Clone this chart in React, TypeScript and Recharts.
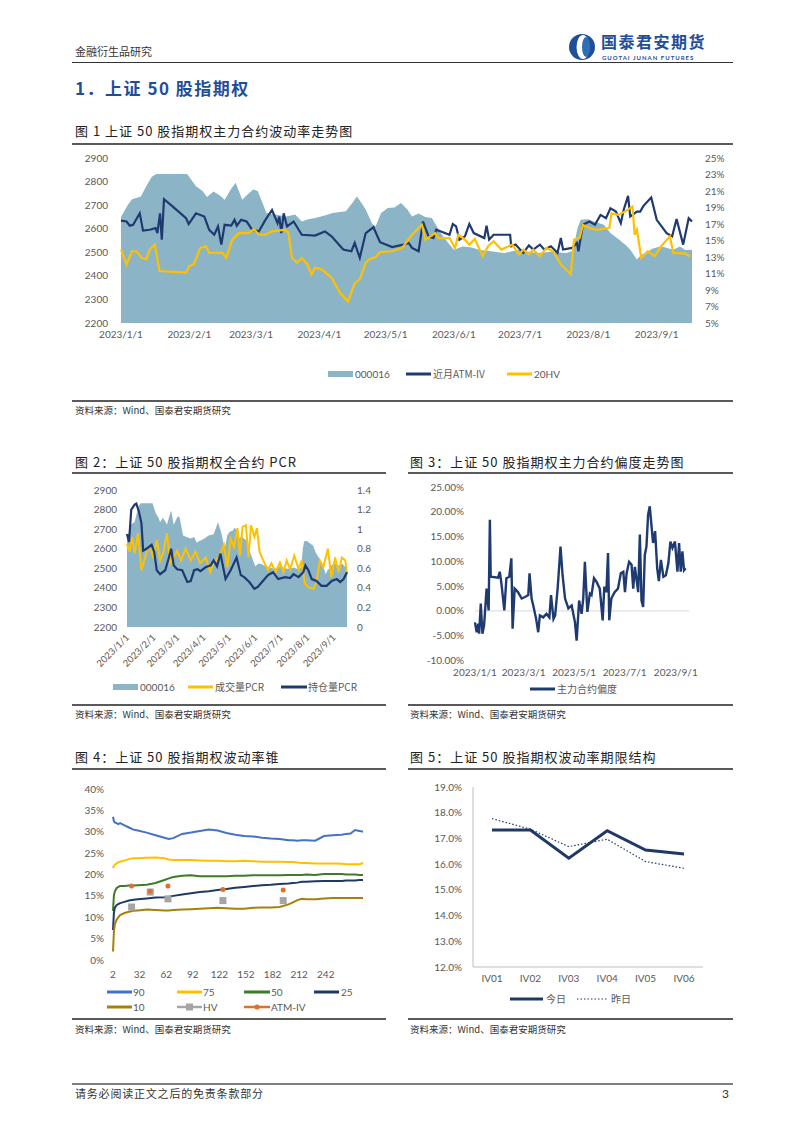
import React from 'react';
import { ComposedChart, LineChart, Area, Line, XAxis, YAxis, ReferenceLine } from 'recharts';

// 横轴统一用 2023/1/1 起的天数
const monthTicks = [0, 31, 59, 90, 120, 151, 181, 212, 243];
const monthLabels = ['2023/1/1', '2023/2/1', '2023/3/1', '2023/4/1', '2023/5/1', '2023/6/1', '2023/7/1', '2023/8/1', '2023/9/1'];

// 000016 (图1、图2 共用)
const idxDays = [0, 3, 5, 9, 12, 14, 16, 19, 30, 34, 37, 39, 42, 45, 47, 50, 52, 55, 58, 60, 62, 66, 70, 75, 79, 82, 85, 88, 92, 96, 102, 105, 107, 109, 111, 114, 115.5, 118, 121, 124, 127, 130, 132, 135, 138, 141, 145, 148, 151, 155, 159, 163, 167, 171, 174, 178, 181, 185, 189, 193, 196, 200, 202, 205, 207, 208.5, 212, 214.5, 219, 222, 226, 229, 231, 234, 236, 238.5, 241, 244.5, 247, 250.5, 253.5, 256, 259];
const idxValues = [2650, 2700, 2725, 2737, 2790, 2820, 2832, 2832, 2832, 2780, 2760, 2735, 2758, 2740, 2723, 2770, 2795, 2723, 2750, 2766, 2760, 2667, 2660, 2652, 2660, 2631, 2640, 2645, 2655, 2667, 2674, 2710, 2737, 2710, 2681, 2620, 2610, 2667, 2688, 2690, 2709, 2680, 2652, 2665, 2650, 2645, 2582, 2545, 2511, 2525, 2520, 2510, 2505, 2500, 2497, 2505, 2511, 2502, 2497, 2500, 2504, 2498, 2497, 2505, 2600, 2638, 2640, 2631, 2617, 2582, 2553, 2530, 2511, 2469, 2490, 2500, 2515, 2525, 2520, 2511, 2525, 2510, 2511];

// 图1 近月ATM-IV (%)
const ivDays = [0, 2.5, 4, 5.5, 8.5, 10, 13, 15.7, 16.5, 17.7, 18.5, 19.5, 23.5, 29.5, 30.7, 34, 37.8, 40, 42.3, 44, 45.5, 47, 50, 51.5, 52.5, 54.5, 57, 59.5, 62.5, 65.5, 68.5, 71, 71.8, 72.7, 73.8, 75.3, 78.3, 82, 88, 92.5, 95.5, 100.8, 104.5, 106, 108.3, 111, 114.5, 117.5, 123, 128, 130.5, 132, 135, 137, 139.5, 141.7, 143, 146, 149, 150.5, 152, 153.5, 156, 158, 160, 164.8, 165.8, 167, 169, 176.5, 177, 179, 181, 182.5, 185, 187, 190, 192, 195, 198, 199.5, 200.5, 204.5, 206.8, 207.5, 209.5, 212.5, 215, 217.5, 220, 222, 224.5, 226.7, 228, 230, 231, 234, 235.5, 237, 240.5, 243, 247.5, 250, 252, 255, 257.5, 259];
const ivValues = [17.4, 17.3, 16.8, 16.9, 18.3, 16.2, 16.3, 16.5, 15.9, 18.3, 15.1, 20.0, 19.1, 17.7, 17.0, 18.3, 17.9, 16.3, 15.7, 16.7, 14.5, 16.9, 16.8, 17.5, 16.8, 17.5, 17.3, 16.3, 16.1, 17.5, 18.7, 17.1, 17.9, 15.9, 18.3, 16.7, 17.3, 15.7, 15.6, 16.1, 15.5, 13.9, 13.7, 14.7, 12.9, 15.9, 16.6, 14.8, 14.2, 14.5, 14.7, 14.1, 13.7, 17.3, 15.5, 15.3, 16.3, 16.0, 15.7, 17.0, 16.7, 15.1, 15.5, 17.0, 15.9, 15.3, 16.8, 15.1, 15.7, 15.7, 14.3, 14.5, 13.9, 13.5, 14.4, 13.9, 14.5, 13.9, 14.3, 13.5, 15.3, 13.9, 14.1, 14.7, 13.7, 16.9, 17.3, 16.9, 18.1, 17.7, 18.9, 18.5, 17.1, 18.7, 20.4, 17.9, 18.5, 18.5, 19.2, 20.2, 17.5, 15.9, 15.5, 17.6, 14.5, 17.7, 17.3];

// 图1 20HV (%)
const hvDays = [0, 2.5, 5, 7, 9.3, 11.5, 13, 15.3, 17.5, 29.5, 31, 33, 36, 38.5, 40, 46, 47.7, 50.5, 53.5, 58, 60.3, 62.5, 65.5, 68.5, 74.5, 76, 77.5, 79.8, 82, 84.5, 86.5, 88, 91, 95.5, 99.5, 103, 106, 108.3, 111, 112.5, 115.5, 117.5, 123, 127.5, 132, 135, 136.5, 138, 142.5, 144, 149, 151.5, 153, 156, 158, 160.5, 164, 166.5, 169, 172.5, 177.5, 180.5, 182.5, 185, 187, 190, 193, 196, 199.5, 204, 205.5, 208, 209.5, 212.5, 215.5, 221.5, 222.5, 225.5, 228.5, 232, 233, 234, 236, 239, 242, 245, 249, 250.5, 256, 258];
const hvValues = [13.9, 12.1, 13.7, 13.7, 12.9, 12.7, 13.9, 14.5, 11.3, 11.1, 11.9, 12.1, 14.1, 14.3, 13.5, 13.5, 12.9, 15.1, 15.9, 15.9, 16.4, 15.7, 15.7, 16.1, 16.3, 15.9, 12.9, 12.3, 12.9, 12.1, 10.9, 11.7, 11.5, 10.5, 8.6, 7.6, 9.8, 10.3, 12.3, 12.7, 13.0, 13.6, 13.7, 14.1, 15.7, 16.5, 16.9, 15.1, 15.9, 15.3, 15.3, 14.1, 15.7, 15.1, 14.5, 15.2, 13.1, 14.3, 14.9, 13.9, 14.5, 13.3, 13.9, 13.3, 13.9, 13.1, 14.1, 13.7, 12.1, 10.9, 15.1, 15.3, 16.9, 16.5, 16.3, 16.5, 18.3, 18.1, 18.5, 19.1, 15.7, 16.3, 12.9, 13.7, 13.1, 14.3, 15.5, 13.5, 13.4, 13.1];

// 图2 成交量PCR / 持仓量PCR
const volDays = [0, 3, 6, 9, 13, 17, 21, 25, 29, 31, 35, 39, 43, 47, 51, 55, 59, 63.5, 69, 75, 80.5, 86, 92.5, 98, 102, 108, 114, 118, 122, 126, 130, 133, 136, 140, 143, 146, 150, 153, 156, 162, 166, 170, 175, 180, 184, 188, 192, 197, 202, 205.5, 209.5, 213.5, 219.5, 223, 227, 231, 236.5, 240.5, 245, 249, 253, 257, 259];
const volValues = [0.85, 0.77, 0.92, 0.75, 0.96, 0.58, 0.70, 0.82, 0.77, 0.70, 0.89, 0.68, 0.77, 0.96, 0.65, 0.71, 0.78, 0.68, 0.80, 0.68, 0.77, 0.65, 0.71, 0.56, 0.66, 0.71, 0.84, 0.61, 0.90, 0.82, 1.01, 0.73, 1.02, 1.04, 0.71, 1.04, 0.92, 1.01, 0.77, 0.65, 0.58, 0.65, 0.56, 0.66, 0.56, 0.68, 0.59, 0.73, 0.59, 0.68, 0.44, 0.41, 0.39, 0.46, 0.68, 0.61, 0.80, 0.51, 0.71, 0.56, 0.71, 0.68, 0.54];
const oiDays = [0, 2.4, 5, 9, 11, 14, 17, 19, 23, 29, 32, 35, 39, 45, 49, 52, 55, 59, 65, 71, 75, 79, 83, 86.5, 92.5, 98.4, 102, 106, 110, 116, 122, 129, 134, 138, 144, 150, 154, 160, 166, 172, 178, 186, 192, 196, 202, 207.5, 210, 213.5, 217.5, 223, 229, 235, 241, 247, 251, 255, 259];
const oiValues = [0.95, 0.87, 1.20, 1.25, 1.26, 1.18, 1.06, 0.78, 0.80, 0.84, 0.77, 0.58, 0.54, 0.58, 0.70, 0.80, 0.63, 0.59, 0.58, 0.46, 0.47, 0.58, 0.59, 0.57, 0.61, 0.63, 0.68, 0.62, 0.75, 0.49, 0.58, 0.71, 0.53, 0.51, 0.46, 0.39, 0.41, 0.47, 0.53, 0.56, 0.49, 0.51, 0.50, 0.54, 0.51, 0.56, 0.63, 0.58, 0.49, 0.47, 0.42, 0.42, 0.47, 0.49, 0.46, 0.49, 0.56];

// 图3 主力合约偏度 (%)
const skewTicks = [0, 59, 120, 181, 243];
const skewTickLabels = ['2023/1/1', '2023/3/1', '2023/5/1', '2023/7/1', '2023/9/1'];
const skewDays = [0, 2, 4, 5, 7, 9, 11, 14, 16.5, 18, 19, 28, 30, 32, 35.5, 38, 41.5, 44, 45.5, 48, 52, 56.5, 60.5, 64.5, 66, 68.5, 70.5, 74, 76.5, 78.5, 82.5, 86.5, 90, 92, 95, 97, 100, 102, 103.5, 106, 109, 113, 117, 121, 123, 126, 129, 131, 133, 136, 139, 141, 144, 147, 151, 154.5, 156.5, 159, 161, 162.5, 165, 169, 173, 176.5, 179.5, 181.5, 183.5, 186.5, 189.5, 191.5, 193.5, 197.5, 199.5, 201.5, 203.5, 205.5, 207.5, 209.5, 211.5, 213.5, 215.5, 218, 220.5, 222.5, 225, 228, 231, 234, 236.5, 239, 242, 245, 247, 249, 251, 253, 255];
const skewValues = [-2.3, -4.3, -2.6, -4.6, 1.5, -4.6, -2.9, 4.5, 0.1, 18.4, 6.9, 6.7, 7.9, 5.5, 0.1, 6.6, 6.9, 10.6, -3.6, 4.5, 3.8, 2.5, 2.8, 3.2, 7.6, 2.5, 1.1, -1.6, -4.3, -0.9, -1.3, -0.6, -1.3, 3.2, -1.6, -0.9, 4.5, 9.3, 13.0, 7.2, 2.5, 0.5, 1.1, -2.3, -6.0, 2.1, -0.6, 2.5, 9.9, -0.2, 3.5, 3.2, 6.6, 5.9, 4.5, -1.9, 4.9, 3.8, 11.7, -1.9, 2.5, 3.8, 4.5, 7.6, 7.9, 3.8, 7.6, 9.9, 9.3, 4.5, 8.9, 3.8, 15.4, 2.1, 0.8, 11.3, 13.0, 19.4, 21.1, 17.4, 13.7, 16.1, 8.6, 6.0, 10.3, 6.9, 7.2, 9.6, 14.0, 12.7, 14.0, 7.9, 13.7, 7.9, 12.0, 8.2, 8.6];

// 图4 波动率锥 (%)
const coneDays = [2, 3, 4, 6, 8, 10, 15, 20, 25, 30, 40, 50, 60, 65, 70, 80, 90, 100, 110, 120, 130, 140, 150, 160, 170, 180, 190, 200, 205, 210, 215, 220, 230, 240, 250, 260, 265, 270, 275, 280, 284];
const cone90 = [33.5, 32.5, 32.2, 32.0, 31.8, 32.0, 31.5, 31.0, 30.5, 30.3, 29.8, 29.2, 28.6, 28.3, 28.5, 29.5, 29.8, 30.2, 30.5, 30.3, 29.7, 29.3, 29.0, 28.9, 28.6, 28.4, 28.3, 28.0, 28.0, 27.9, 28.0, 28.0, 27.9, 29.0, 29.2, 29.3, 29.5, 29.6, 30.4, 30.2, 30.0];
const cone75 = [21.5, 22.0, 22.3, 22.6, 22.9, 23.0, 23.3, 23.6, 23.8, 23.8, 23.9, 24.0, 23.8, 23.5, 23.4, 23.4, 23.4, 23.3, 23.2, 23.2, 23.1, 23.1, 23.2, 23.1, 23.0, 23.0, 23.0, 22.9, 22.9, 22.8, 22.7, 22.7, 22.6, 22.6, 22.6, 22.5, 22.4, 22.4, 22.4, 22.4, 22.7];
const cone50 = [11.5, 15.0, 16.0, 16.8, 17.1, 17.3, 17.3, 17.4, 17.4, 17.5, 17.6, 18.0, 18.7, 19.1, 19.4, 19.7, 19.8, 19.6, 19.6, 19.6, 19.6, 19.7, 19.7, 19.8, 19.8, 19.8, 19.8, 19.9, 19.9, 19.9, 19.9, 20.0, 19.9, 20.1, 20.1, 20.1, 20.0, 20.0, 20.0, 19.9, 19.9];
const cone25 = [7.0, 11.0, 12.2, 12.8, 13.1, 13.3, 13.6, 13.9, 14.1, 14.2, 14.4, 14.6, 14.7, 14.8, 15.0, 15.3, 15.6, 15.9, 16.1, 16.4, 16.6, 16.9, 17.1, 17.3, 17.5, 17.6, 17.8, 17.9, 18.0, 18.1, 18.3, 18.3, 18.4, 18.5, 18.5, 18.5, 18.6, 18.6, 18.6, 18.7, 18.7];
const cone10 = [2.0, 6.5, 8.3, 9.4, 10.0, 10.5, 11.0, 11.3, 11.5, 11.6, 11.8, 11.7, 11.6, 11.6, 11.7, 11.8, 11.9, 12.0, 12.1, 12.2, 12.1, 12.0, 12.0, 12.2, 12.3, 12.3, 12.4, 13.0, 13.5, 14.0, 14.3, 14.2, 14.2, 14.4, 14.5, 14.5, 14.5, 14.5, 14.5, 14.5, 14.5];
const markDays = [23, 44, 64, 126, 194];
const markHV = [12.4, 15.9, 14.3, 13.9, 13.9];
const markATM = [17.3, 16.1, 17.3, 16.5, 16.4];
const coneXTicks = [2, 32, 62, 92, 122, 152, 182, 212, 242];
const coneYTicks = [0, 5, 10, 15, 20, 25, 30, 35, 40];

// 图5 期限结构 (%)
const termLabels = ['IV01', 'IV02', 'IV03', 'IV04', 'IV05', 'IV06'];
const termToday = [17.33, 17.33, 16.23, 17.3, 16.55, 16.39];
const termYesterday = [17.77, 17.36, 16.68, 16.97, 16.1, 15.84];

const fig1LeftTicks = [2200, 2300, 2400, 2500, 2600, 2700, 2800, 2900];
const fig1RightTicks = [5, 7, 9, 11, 13, 15, 17, 19, 21, 23, 25];
const pcrTicks = [0, 0.2, 0.4, 0.6, 0.8, 1, 1.2, 1.4];
const skewYTicks = [-10, -5, 0, 5, 10, 15, 20, 25];
const termYTicks = [12, 13, 14, 15, 16, 17, 18, 19];

const NUM_FONT = 'Lato, "Noto Sans", sans-serif';
const CJK_FONT = '"Noto Sans CJK SC", "Noto Sans", sans-serif';
const AXIS_GREY = '#595959';
const AREA = '#8BB5C6';
const NAVY = '#1F3A70';
const GOLD = '#FFC000';

const tickStyle = { fill: AXIS_GREY, fontSize: 10, fontFamily: NUM_FONT };

type Series = { key: string; days: number[]; values: number[] };
function mergeByDay(series: Series[]) {
    const map = new Map<number, Record<string, number>>();
    series.forEach(s => s.days.forEach((d, i) => {
        const row = map.get(d) ?? { day: d };
        row[s.key] = s.values[i];
        map.set(d, row);
    }));
    return [...map.values()].sort((a, b) => a.day - b.day);
}

const fig1Data = mergeByDay([
    { key: 'idx', days: idxDays, values: idxValues },
    { key: 'iv', days: ivDays, values: ivValues },
    { key: 'hv', days: hvDays, values: hvValues },
]);
const fig2Data = mergeByDay([
    { key: 'idx', days: idxDays, values: idxValues },
    { key: 'vol', days: volDays, values: volValues },
    { key: 'oi', days: oiDays, values: oiValues },
]);
const fig3Data = skewDays.map((d, i) => ({ day: d, skew: skewValues[i] }));
const fig4Data = mergeByDay([
    { key: 'p90', days: coneDays, values: cone90 },
    { key: 'p75', days: coneDays, values: cone75 },
    { key: 'p50', days: coneDays, values: cone50 },
    { key: 'p25', days: coneDays, values: cone25 },
    { key: 'p10', days: coneDays, values: cone10 },
    { key: 'hv', days: markDays, values: markHV },
    { key: 'atm', days: markDays, values: markATM },
]);
const fig5Data = termLabels.map((t, i) => ({ name: t, today: termToday[i], yesterday: termYesterday[i] }));

const monthLabel = (v: number) => monthLabels[monthTicks.indexOf(v)] ?? '';

// 页面上的文字：y 为文字中线
function T({ x, y, size = 10, color = '#222', font = CJK_FONT, weight = 400, spacing = 0, children }: any) {
    return (
        <div style={{
            position: 'absolute', left: x, top: y - size * 0.6, fontSize: size, lineHeight: `${size * 1.2}px`,
            color, fontFamily: font, fontWeight: weight, letterSpacing: spacing, whiteSpace: 'nowrap',
        }}>{children}</div>
    );
}

function Rule({ x, y, w, h = 1, color = '#595959' }: any) {
    return <div style={{ position: 'absolute', left: x, top: y, width: w, height: h, background: color }} />;
}

function Swatch({ x, y, w = 26, kind, color, dash }: any) {
    return (
        <svg style={{ position: 'absolute', left: x, top: y - 5 }} width={w} height={10}>
            {kind === 'box' && <rect x={0} y={2} width={w} height={6} fill={color} />}
            {kind === 'line' && <line x1={0} x2={w} y1={5} y2={5} stroke={color} strokeWidth={3} strokeDasharray={dash} />}
            {kind === 'sq' && <>
                <line x1={0} x2={w} y1={5} y2={5} stroke={color} strokeWidth={2.5} />
                <rect x={w / 2 - 3.5} y={1.5} width={7} height={7} fill={color} />
            </>}
            {kind === 'dot' && <>
                <line x1={0} x2={w} y1={5} y2={5} stroke={color} strokeWidth={2.5} />
                <circle cx={w / 2} cy={5} r={2.6} fill={color} />
            </>}
        </svg>
    );
}

const RotTick = ({ x, y, payload }: any) => (
    <text x={x + 3} y={y + 3} transform={`rotate(-45 ${x + 3} ${y + 3})`} textAnchor="end"
        fill={AXIS_GREY} fontSize={9.5} fontFamily={NUM_FONT}>{monthLabel(payload.value)}</text>
);

const Square = ({ cx, cy }: any) => (cx == null || cy == null ? null :
    <rect x={cx - 3.5} y={cy - 3.5} width={7} height={7} fill="#A5A5A5" />);
const Dot = ({ cx, cy }: any) => (cx == null || cy == null ? null :
    <circle cx={cx} cy={cy} r={2.5} fill="#E2702C" />);

function Logo() {
    return (
        <>
            <svg style={{ position: 'absolute', left: 568, top: 33 }} width={28} height={28}>
                <circle cx={14} cy={14} r={13} fill="#1F4E9A" />
                <ellipse cx={15} cy={14} rx={6.5} ry={12} fill="#fff" />
                <ellipse cx={18} cy={14} rx={4} ry={10} fill="#2F6DB5" />
            </svg>
            <T x={601} y={42} size={16} color="#1F4E9A" weight={700} spacing={1.5}>国泰君安期货</T>
            <T x={602} y={57.5} size={6} color="#1F4E9A" font={NUM_FONT} weight={700} spacing={1}>GUOTAI JUNAN FUTURES</T>
        </>
    );
}

export default function App() {
    return (
        <div style={{ position: 'absolute', left: 0, top: 0, width: 802, height: 1134, background: '#fff', overflow: 'hidden' }}>
            {/* 页眉 */}
            <T x={75} y={52} size={11} color="#333">金融衍生品研究</T>
            <Logo />
            <Rule x={72} y={62} w={661} color="#333" />
            <T x={75} y={88} size={17} color="#1F4E99" weight={700} spacing={1.5}>1．上证 50 股指期权</T>

            {/* 图1 */}
            <T x={75} y={131} size={13} spacing={1}>图 1 上证 50 股指期权主力合约波动率走势图</T>
            <Rule x={72} y={143} w={661} h={1.5} />
            <div style={{ position: 'absolute', left: 60, top: 150 }}>
                <ComposedChart width={680} height={200} data={fig1Data} margin={{ top: 8, right: 0, bottom: 0, left: 0 }}>
                    <XAxis dataKey="day" type="number" domain={[0, 259]} ticks={monthTicks} tickFormatter={monthLabel}
                        axisLine={false} tickLine={false} height={27} tick={tickStyle} interval={0} />
                    <YAxis yAxisId="l" domain={[2200, 2900]} ticks={fig1LeftTicks} width={61} axisLine={false} tickLine={false}
                        tickMargin={7} tick={tickStyle} />
                    <YAxis yAxisId="r" orientation="right" domain={[5, 25]} ticks={fig1RightTicks} width={48} axisLine={false}
                        tickLine={false} tickMargin={7} tick={{ ...tickStyle, textAnchor: 'start' }} tickFormatter={(v: number) => `${v}%`} />
                    <Area yAxisId="l" dataKey="idx" type="linear" fill={AREA} fillOpacity={1} stroke="none" connectNulls isAnimationActive={false} />
                    <Line yAxisId="r" dataKey="iv" type="linear" stroke={NAVY} strokeWidth={2.2} dot={false} connectNulls isAnimationActive={false} />
                    <Line yAxisId="r" dataKey="hv" type="linear" stroke={GOLD} strokeWidth={2.2} dot={false} connectNulls isAnimationActive={false} />
                </ComposedChart>
            </div>
            <Swatch x={328} y={374} w={25} kind="box" color={AREA} />
            <T x={355} y={374} size={10} color={AXIS_GREY} font={NUM_FONT}>000016</T>
            <Swatch x={406} y={374} w={25} kind="line" color={NAVY} />
            <T x={433} y={374} size={10} color={AXIS_GREY}>近月ATM-IV</T>
            <Swatch x={507} y={374} w={25} kind="line" color={GOLD} />
            <T x={534} y={374} size={10} color={AXIS_GREY} font={NUM_FONT}>20HV</T>
            <Rule x={72} y={400} w={661} h={1.5} />
            <T x={75} y={411} size={9.5} color="#333">资料来源：Wind、国泰君安期货研究</T>

            {/* 图2 */}
            <T x={75} y={462} size={13} spacing={1}>图 2：上证 50 股指期权全合约 PCR</T>
            <Rule x={72} y={472} w={314} h={1.5} />
            <div style={{ position: 'absolute', left: 60, top: 480 }}>
                <ComposedChart width={320} height={200} data={fig2Data} margin={{ top: 10, right: 0, bottom: 0, left: 0 }}>
                    <XAxis dataKey="day" type="number" domain={[0, 259]} ticks={monthTicks} axisLine={false} tickLine={false}
                        height={53} tick={<RotTick />} interval={0} />
                    <YAxis yAxisId="l" domain={[2200, 2900]} ticks={fig1LeftTicks} width={67} axisLine={false} tickLine={false}
                        tickMargin={4} tick={tickStyle} />
                    <YAxis yAxisId="r" orientation="right" domain={[0, 1.4]} ticks={pcrTicks} width={33} axisLine={false}
                        tickLine={false} tickMargin={4} tick={{ ...tickStyle, textAnchor: 'start' }} />
                    <Area yAxisId="l" dataKey="idx" type="linear" fill={AREA} fillOpacity={1} stroke="none" connectNulls isAnimationActive={false} />
                    <Line yAxisId="r" dataKey="vol" type="linear" stroke={GOLD} strokeWidth={2} dot={false} connectNulls isAnimationActive={false} />
                    <Line yAxisId="r" dataKey="oi" type="linear" stroke={NAVY} strokeWidth={2.2} dot={false} connectNulls isAnimationActive={false} />
                </ComposedChart>
            </div>
            <Swatch x={113} y={687} w={25} kind="box" color={AREA} />
            <T x={140} y={687} size={10} color={AXIS_GREY} font={NUM_FONT}>000016</T>
            <Swatch x={188} y={687} w={25} kind="line" color={GOLD} />
            <T x={215} y={687} size={10} color={AXIS_GREY}>成交量PCR</T>
            <Swatch x={281} y={687} w={26} kind="line" color={NAVY} />
            <T x={308} y={687} size={10} color={AXIS_GREY}>持仓量PCR</T>
            <Rule x={72} y={704} w={314} h={1.5} />
            <T x={75} y={715} size={9.5} color="#333">资料来源：Wind、国泰君安期货研究</T>

            {/* 图3 */}
            <T x={410} y={462} size={13} spacing={1}>图 3：上证 50 股指期权主力合约偏度走势图</T>
            <Rule x={408} y={472} w={325} h={1.5} />
            <div style={{ position: 'absolute', left: 400, top: 476 }}>
                <ComposedChart width={340} height={205} data={fig3Data} margin={{ top: 11, right: 51, bottom: 0, left: 0 }}>
                    <XAxis dataKey="day" type="number" domain={[0, 259]} ticks={skewTicks}
                        tickFormatter={(v: number) => skewTickLabels[skewTicks.indexOf(v)] ?? ''}
                        axisLine={false} tickLine={false} height={20.5} tick={tickStyle} interval={0} />
                    <YAxis domain={[-10, 25]} ticks={skewYTicks} width={75} axisLine={false} tickLine={false} tickMargin={5}
                        tick={tickStyle} tickFormatter={(v: number) => `${v.toFixed(2)}%`} />
                    <ReferenceLine y={0} stroke="#D9D9D9" strokeWidth={1} />
                    <Line dataKey="skew" type="linear" stroke={NAVY} strokeWidth={2.4} dot={false} isAnimationActive={false} />
                </ComposedChart>
            </div>
            <Swatch x={530} y={689} w={25} kind="line" color={NAVY} />
            <T x={557} y={689} size={10} color={AXIS_GREY}>主力合约偏度</T>
            <Rule x={408} y={704} w={325} h={1.5} />
            <T x={410} y={715} size={9.5} color="#333">资料来源：Wind、国泰君安期货研究</T>

            {/* 图4 */}
            <T x={75} y={757} size={13} spacing={1}>图 4：上证 50 股指期权波动率锥</T>
            <Rule x={72} y={768} w={314} h={1.5} />
            <div style={{ position: 'absolute', left: 60, top: 780 }}>
                <ComposedChart width={320} height={200} data={fig4Data} margin={{ top: 9, right: 17, bottom: 0, left: 0 }}>
                    <XAxis dataKey="day" type="number" domain={[2, 284]} ticks={coneXTicks} axisLine={false} tickLine={false}
                        height={20} tickMargin={5} tick={tickStyle} interval={0} />
                    <YAxis domain={[0, 40]} ticks={coneYTicks} width={53} axisLine={false} tickLine={false} tickMargin={3}
                        tick={tickStyle} tickFormatter={(v: number) => `${v}%`} />
                    <Line dataKey="p90" type="linear" stroke="#4472C4" strokeWidth={2} dot={false} connectNulls isAnimationActive={false} />
                    <Line dataKey="p75" type="linear" stroke={GOLD} strokeWidth={2} dot={false} connectNulls isAnimationActive={false} />
                    <Line dataKey="p50" type="linear" stroke="#3F7A2A" strokeWidth={2} dot={false} connectNulls isAnimationActive={false} />
                    <Line dataKey="p25" type="linear" stroke="#1F3864" strokeWidth={2} dot={false} connectNulls isAnimationActive={false} />
                    <Line dataKey="p10" type="linear" stroke="#A5810C" strokeWidth={2} dot={false} connectNulls isAnimationActive={false} />
                    <Line dataKey="hv" stroke="none" dot={<Square />} isAnimationActive={false} />
                    <Line dataKey="atm" stroke="none" dot={<Dot />} isAnimationActive={false} />
                </ComposedChart>
            </div>
            <Swatch x={107} y={992} w={25} kind="line" color="#4472C4" />
            <T x={133} y={992} size={10} color={AXIS_GREY} font={NUM_FONT}>90</T>
            <Swatch x={177} y={992} w={25} kind="line" color={GOLD} />
            <T x={203} y={992} size={10} color={AXIS_GREY} font={NUM_FONT}>75</T>
            <Swatch x={244} y={992} w={26} kind="line" color="#3F7A2A" />
            <T x={271} y={992} size={10} color={AXIS_GREY} font={NUM_FONT}>50</T>
            <Swatch x={314} y={992} w={25} kind="line" color="#1F3864" />
            <T x={341} y={992} size={10} color={AXIS_GREY} font={NUM_FONT}>25</T>
            <Swatch x={107} y={1007} w={25} kind="line" color="#A5810C" />
            <T x={133} y={1007} size={10} color={AXIS_GREY} font={NUM_FONT}>10</T>
            <Swatch x={177} y={1007} w={25} kind="sq" color="#A5A5A5" />
            <T x={203} y={1007} size={10} color={AXIS_GREY} font={NUM_FONT}>HV</T>
            <Swatch x={244} y={1007} w={26} kind="dot" color="#E2702C" />
            <T x={271} y={1007} size={10} color={AXIS_GREY} font={NUM_FONT}>ATM-IV</T>
            <Rule x={72} y={1018} w={314} h={1.5} />
            <T x={75} y={1030} size={9.5} color="#333">资料来源：Wind、国泰君安期货研究</T>

            {/* 图5 */}
            <T x={410} y={757} size={13} spacing={1}>图 5：上证 50 股指期权波动率期限结构</T>
            <Rule x={408} y={768} w={325} h={1.5} />
            <div style={{ position: 'absolute', left: 400, top: 778 }}>
                <LineChart width={340} height={213} data={fig5Data} margin={{ top: 9, right: 37, bottom: 0, left: 0 }}>
                    <XAxis dataKey="name" axisLine={{ stroke: '#BFBFBF' }} tickLine={false} height={24} tick={tickStyle}
                        interval={0} padding={{ left: 19, right: 19 }} />
                    <YAxis domain={[12, 19]} ticks={termYTicks} width={73} axisLine={{ stroke: '#BFBFBF' }} tickLine={false}
                        tickMargin={5} tick={tickStyle} tickFormatter={(v: number) => `${v.toFixed(1)}%`} />
                    <Line dataKey="today" type="linear" stroke="#203864" strokeWidth={3} dot={false} isAnimationActive={false} />
                    <Line dataKey="yesterday" type="linear" stroke="#203864" strokeWidth={1.2} strokeDasharray="1.5 2" dot={false} isAnimationActive={false} />
                </LineChart>
            </div>
            <Swatch x={510} y={999} w={33} kind="line" color="#203864" />
            <T x={546} y={999} size={10} color={AXIS_GREY}>今日</T>
            <svg style={{ position: 'absolute', left: 577, top: 994 }} width={30} height={10}>
                <line x1={0} x2={30} y1={5} y2={5} stroke="#203864" strokeWidth={1.2} strokeDasharray="1.5 2" />
            </svg>
            <T x={611} y={999} size={10} color={AXIS_GREY}>昨日</T>
            <Rule x={408} y={1018} w={325} h={1.5} />
            <T x={410} y={1030} size={9.5} color="#333">资料来源：Wind、国泰君安期货研究</T>

            {/* 页脚 */}
            <Rule x={72} y={1083} w={661} h={1.5} color="#7F7F7F" />
            <T x={75} y={1094} size={11} color="#333" spacing={0.8}>请务必阅读正文之后的免责条款部分</T>
            <T x={722} y={1094} size={12} color="#333" font={NUM_FONT}>3</T>
        </div>
    );
}
